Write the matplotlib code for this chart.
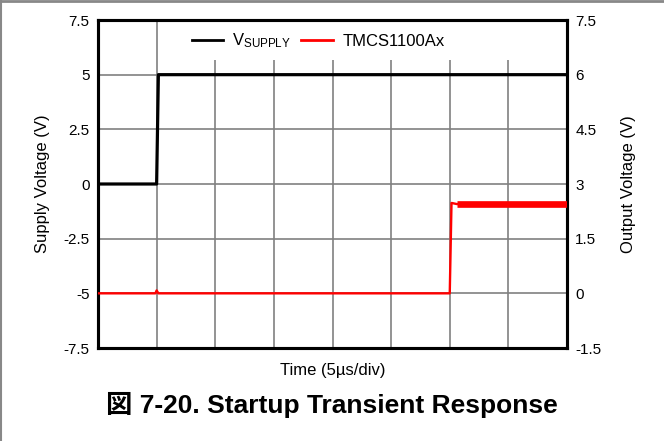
import matplotlib
matplotlib.use("Agg")
import matplotlib.pyplot as plt
from matplotlib.lines import Line2D
from matplotlib.patches import Rectangle

plt.rcParams['font.family'] = ['Liberation Sans', 'Noto Sans CJK JP', 'DejaVu Sans']
plt.rcParams['mathtext.default'] = 'regular'

# Data (time in divisions of 5 us)
t_supply = [0.0, 1.0, 1.03, 8.0]
v_supply = [0.0, 0.0, 5.0, 5.0]

t_out = [0.0, 0.98, 1.0, 1.03, 6.0, 6.03, 6.12, 8.0]
v_out = [0.0, 0.0, 0.08, 0.0, 0.0, 2.48, 2.45, 2.45]
t_out_settled = [6.12, 8.0]
v_out_settled = [2.45, 2.45]

left_ticks = [-7.5, -5, -2.5, 0, 2.5, 5, 7.5]
left_labels = ['-7.5', '-5', '-2.5', '0', '2.5', '5', '7.5']
right_ticks = [-1.5, 0, 1.5, 3, 4.5, 6, 7.5]
right_labels = ['-1.5', '0', '1.5', '3', '4.5', '6', '7.5']
x_grid = [0, 1, 2, 3, 4, 5, 6, 7, 8]

fig = plt.figure(figsize=(6.64, 4.41), dpi=100)
ax = fig.add_axes([98/664, 1-348/441, (567-98)/664, (348-20)/441])
ax2 = ax.twinx()

ax.set_xlim(0, 8)
ax.set_ylim(-7.5, 7.5)
ax2.set_ylim(-1.5, 7.5)

ax.set_xticks(x_grid)
ax.set_xticklabels([])
ax.set_yticks(left_ticks)
ax.set_yticklabels(left_labels)
ax2.set_yticks(right_ticks)
ax2.set_yticklabels(right_labels)

ax.set_axisbelow(True)
ax.grid(True, color='#808080', linewidth=1.2)
ax.tick_params(axis='both', length=0, labelsize=11, pad=6)
ax2.tick_params(axis='both', length=0, labelsize=11, pad=6)

for a in (ax, ax2):
    for s in a.spines.values():
        s.set_linewidth(2.2)
        s.set_color('black')

# white legend area covering the grid
ax.add_patch(Rectangle((0.13, (348-60)/328), 0.87, 1 - (348-60)/328,
                       transform=ax.transAxes, facecolor='white',
                       edgecolor='none', zorder=0.8))

ax.plot(t_supply, v_supply, color='black', linewidth=2.3, zorder=3)
ax2.plot(t_out, v_out, color='#ff0000', linewidth=1.7, zorder=3)
ax2.plot(t_out_settled, v_out_settled, color='#ff0000', linewidth=4.8,
         solid_capstyle='butt', zorder=3)

handles = [Line2D([], [], color='black', linewidth=2),
           Line2D([], [], color='#ff0000', linewidth=2)]
leg = ax2.legend(handles, ['$V_{SUPPLY}$', 'TMCS1100Ax'], loc='center',
                 bbox_to_anchor=(0.469, (348-41)/328), ncol=2, frameon=False,
                 fontsize=12, handlelength=1.9, columnspacing=0.6,
                 handletextpad=0.55, borderpad=0, borderaxespad=0)

ax.set_ylabel('Supply Voltage (V)', fontsize=12, labelpad=10)
ax2.set_ylabel('Output Voltage (V)', fontsize=12, labelpad=14)
ax.set_xlabel('Time (5µs/div)', fontsize=12, labelpad=5)

fig.text(0.5, 1-405/441, '図 7-20. Startup Transient Response', ha='center',
         va='center', fontsize=19, fontweight='bold',
         family=['Liberation Sans', 'Noto Sans CJK JP'])

fig.add_artist(Line2D([0, 1], [0.9975, 0.9975], transform=fig.transFigure,
                      color='#888888', linewidth=2))
fig.add_artist(Line2D([0.001, 0.001], [0, 1], transform=fig.transFigure,
                      color='#888888', linewidth=1.5))

fig.savefig('out.png', dpi=100)
